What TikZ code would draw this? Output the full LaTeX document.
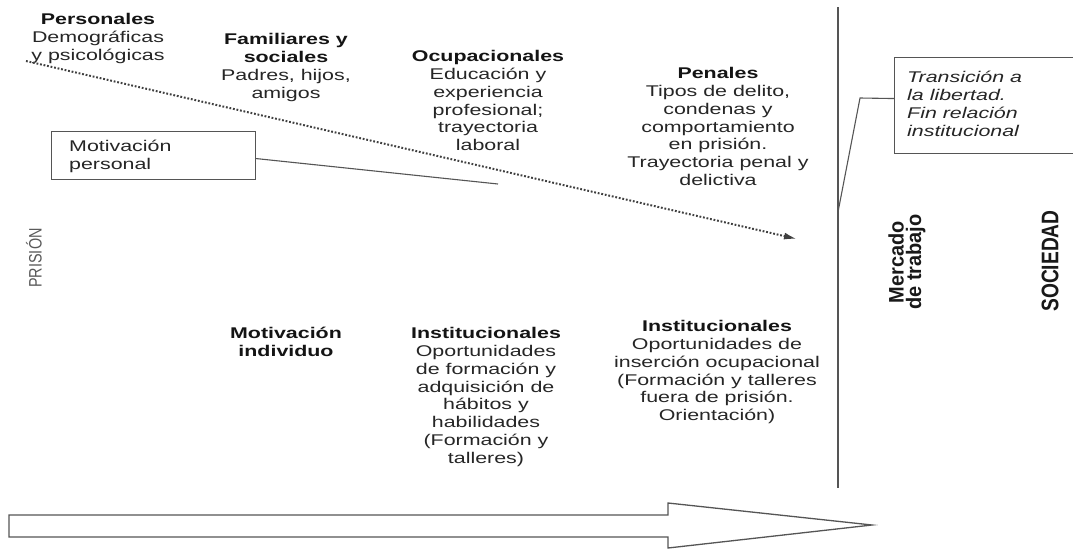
\documentclass[tikz,border=0pt]{standalone}
\usepackage{fontspec}
\usetikzlibrary{arrows.meta}
\setmainfont{Liberation Sans}
\newfontfamily\hf{Liberation Sans}[FakeStretch=1.38]
\newfontfamily\mercf{Liberation Sans}[FakeStretch=0.95]
\newfontfamily\socf{Liberation Sans}[FakeStretch=0.8]
\newfontfamily\prisf{Liberation Sans}[FakeStretch=0.8]
\definecolor{txt}{HTML}{262626}
\definecolor{ln}{HTML}{555555}
\newcommand\headtxt[1]{{\bfseries\color{black!92}#1}}
\begin{document}
\begin{tikzpicture}[x=1pt,y=-1pt,
  lbl/.style={align=center, anchor=north, inner sep=0pt, text=txt,
    font=\hf\fontsize{15.5}{17.8}\selectfont},
  lbll/.style={lbl, align=left, anchor=north west},
  boxnode/.style={draw=ln, line width=1.1pt, anchor=north west, inner sep=0pt},
  conn/.style={draw=ln, line width=1.1pt},
  vert/.style={rotate=90, inner sep=0pt, text=black!90, align=center}]
\useasboundingbox (0,0) rectangle (1073,549);
\fill[white] (0,0) rectangle (1073,549);

% top labels
\node[lbl] (pers) at (98,12) {\strut\headtxt{Personales}\\Demográficas\\y psicológicas};
\node[lbl] (fam) at (286,32) {\strut\headtxt{Familiares y}\\\headtxt{sociales}\\Padres, hijos,\\amigos};
\node[lbl] (ocu) at (488,49) {\strut\headtxt{Ocupacionales}\\Educación y\\experiencia\\profesional;\\trayectoria\\laboral};
\node[lbl] (pen) at (718,66) {\strut\headtxt{Penales}\\Tipos de delito,\\condenas y\\comportamiento\\en prisión.\\Trayectoria penal y\\delictiva};

% bottom labels
\node[lbl] (motind) at (286,326) {\strut\headtxt{Motivación}\\\headtxt{individuo}};
\node[lbl] (inst1) at (486,326) {\strut\headtxt{Institucionales}\\Oportunidades\\de formación y\\adquisición de\\hábitos y\\habilidades\\(Formación y\\talleres)};
\node[lbl] (inst2) at (717,319) {\strut\headtxt{Institucionales}\\Oportunidades de\\inserción ocupacional\\(Formación y talleres\\fuera de prisión.\\Orientación)};

% motivación personal box
\node[boxnode, minimum width=204pt, minimum height=48pt] (mpbox) at (51,131) {};
\node[lbll] (mptxt) at (69,139) {\strut Motivación\\personal};
\coordinate (mpend) at (498,184);
\draw[conn] ([yshift=-3pt]mpbox.east) -- (mpend);

% dotted arrow
\coordinate (ds) at (26,61);
\coordinate (de) at (797,239);
\draw[draw=black!75, line width=2pt, dash pattern=on 1.8pt off 1.8pt, -{Latex[length=13pt,width=7pt]}] (ds) -- (de);

% vertical divider
\coordinate (vtop) at (838,7);
\coordinate (vbot) at (838,488);
\coordinate (vj) at (838,212);
\draw[conn, line width=1.4pt] (vtop) -- (vbot);

% transition box
\node[boxnode, minimum width=184pt, minimum height=96pt] (tbox) at (894,57) {};
\node[lbll] (ttxt) at (907,70) {\strut\itshape Transición a\\\itshape la libertad.\\\itshape Fin relación\\\itshape institucional};
\coordinate (tk) at (860,98);
\draw[conn] ([yshift=7pt]tbox.west) -- (tk) -- (vj);

% rotated labels
\node[vert, font=\prisf\fontsize{18}{20}\selectfont, text=black!65] (pris) at (34,258) {PRISIÓN};
\node[vert, font=\mercf\bfseries\fontsize{21}{17.5}\selectfont] (merc) at (907,262) {Mercado\\de trabajo};
\node[vert, font=\socf\bfseries\fontsize{24}{26}\selectfont] (soc) at (1050,261) {SOCIEDAD};

% big arrow
\draw[conn, line width=1.3pt, fill=white] (9,515) -- (668,515) -- (668,503) -- (872,525) -- (668,548) -- (668,537) -- (9,537) -- cycle;
\end{tikzpicture}
\end{document}
